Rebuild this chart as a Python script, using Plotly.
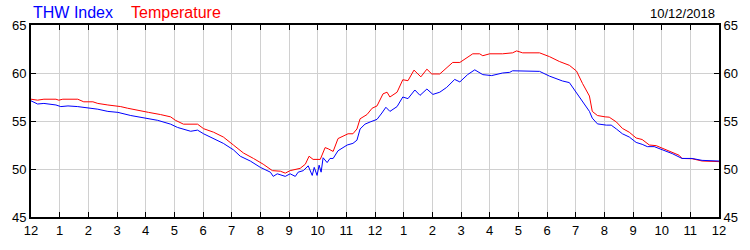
import plotly.graph_objects as go

# Hours since midnight (0-24) and values
temp_hours = [0.00, 0.23, 0.45, 0.87, 0.97, 1.11, 1.63, 1.84, 2.16, 2.33, 2.68, 3.13, 3.37, 3.83,
              4.10, 4.52, 4.87, 5.04, 5.32, 5.81, 6.02, 6.37, 6.71, 7.06, 7.41, 7.76, 8.10, 8.42,
              8.70, 8.87, 9.04, 9.39, 9.57, 9.70, 9.84, 10.09, 10.26, 10.37, 10.54, 10.71, 10.89,
              11.06, 11.23, 11.37, 11.48, 11.72, 11.90, 12.07, 12.28, 12.42, 12.52, 12.77, 12.97,
              13.15, 13.36, 13.60, 13.81, 13.98, 14.26, 14.71, 14.96, 15.41, 15.65, 15.76, 16.00,
              16.45, 16.80, 16.94, 17.15, 17.74, 18.09, 18.43, 18.78, 19.03, 19.24, 19.48, 19.58,
              19.76, 20.03, 20.17, 20.42, 20.63, 20.87, 21.11, 21.32, 21.57, 21.81, 22.02, 22.37,
              22.61, 22.71, 23.06, 23.41, 24.00]
temperature = [57.27, 57.17, 57.27, 57.27, 57.17, 57.27, 57.27, 57.0, 57.0, 56.83, 56.67, 56.5, 56.33, 56.1,
               55.9, 55.67, 55.43, 55.07, 54.67, 54.67, 54.2, 53.83, 53.33, 52.5, 51.67, 51.1, 50.5, 49.83,
               49.77, 49.57, 49.83, 50.07, 50.5, 51.33, 51.0, 51.0, 52.23, 52.1, 51.83, 53.17, 53.4,
               53.67, 53.67, 54.17, 55.23, 55.67, 56.33, 56.57, 57.83, 58.0, 57.5, 58.0, 59.3,
               59.2, 60.3, 59.6, 60.4, 59.9, 59.9, 61.1, 61.1, 62.0, 62.0, 61.8, 62.0,
               62.0, 62.1, 62.3, 62.1, 62.1, 61.7, 61.2, 60.8, 60.2, 58.9, 57.6, 56.0,
               55.57, 55.43, 55.4, 54.9, 54.23, 53.83, 53.23, 53.07, 52.5, 52.43, 52.17, 51.67,
               51.43, 51.1, 51.07, 50.83, 50.77]

thw_hours = [0.00, 0.23, 0.45, 0.70, 0.87, 1.04, 1.29, 1.63, 1.84, 2.09, 2.33, 2.68, 3.03, 3.48, 3.93,
             4.42, 4.87, 5.11, 5.57, 5.81, 6.02, 6.26, 6.71, 7.06, 7.30, 7.65, 8.00, 8.35, 8.45, 8.59,
             8.87, 9.04, 9.22, 9.32, 9.50, 9.67, 9.81, 9.88, 9.98, 10.05, 10.12, 10.19, 10.33, 10.43,
             10.54, 10.71, 11.03, 11.23, 11.37, 11.48, 11.65, 11.83, 12.07, 12.24, 12.38, 12.52, 12.77,
             12.97, 13.15, 13.39, 13.57, 13.81, 14.02, 14.26, 14.50, 14.78, 14.96, 15.23, 15.48, 15.76,
             16.07, 16.45, 16.70, 16.80, 17.04, 17.39, 17.74, 18.09, 18.37, 18.54, 18.78, 18.85, 19.03,
             19.24, 19.48, 19.58, 19.76, 20.07, 20.24, 20.42, 20.63, 20.87, 21.11, 21.32, 21.50, 21.74,
             22.02, 22.37, 22.71, 23.06, 23.41, 24.00]
thw_index = [57.1, 56.77, 56.83, 56.77, 56.67, 56.5, 56.57, 56.5, 56.43, 56.33, 56.23, 56.0, 55.9, 55.57, 55.33,
             55.07, 54.67, 54.33, 53.93, 54.05, 53.67, 53.33, 52.67, 52.0, 51.33, 50.83, 50.17, 49.67, 49.23, 49.5,
             49.23, 49.5, 49.23, 49.67, 49.83, 50.33, 49.33, 50.17, 49.33, 50.4, 49.67, 51.17, 50.67, 51.1,
             51.1, 51.9, 52.5, 52.67, 53.0, 54.17, 54.67, 54.9, 55.17, 55.83, 56.43, 56.0, 56.5,
             57.5, 57.33, 58.23, 57.67, 58.33, 57.77, 58.0, 58.5, 59.33, 59.07, 59.83, 60.33, 59.83,
             59.73, 60.0, 60.07, 60.23, 60.23, 60.23, 60.17, 59.67, 59.33, 59.17, 59.0, 58.7, 57.9,
             57.0, 56.0, 55.3, 54.7, 54.57, 54.57, 54.17, 53.67, 53.33, 52.77, 52.57, 52.33, 52.33,
             52.0, 51.6, 51.1, 51.1, 50.9, 50.83]

tick_hours = list(range(25))
tick_labels = ["12", "1", "2", "3", "4", "5", "6", "7", "8", "9", "10", "11",
               "12", "1", "2", "3", "4", "5", "6", "7", "8", "9", "10", "11", "12"]
y_ticks = [45, 50, 55, 60, 65]

FONT = "Liberation Sans"

fig = go.Figure()
fig.add_trace(go.Scatter(x=temp_hours, y=temperature, mode="lines",
                         line=dict(color="#ff0000", width=1), name="Temperature"))
fig.add_trace(go.Scatter(x=thw_hours, y=thw_index, mode="lines",
                         line=dict(color="#0000ff", width=1), name="THW Index"))
fig.add_trace(go.Scatter(x=[None], y=[None], yaxis="y2", showlegend=False, hoverinfo="skip"))

axis_common = dict(showline=True, linecolor="black", linewidth=2, ticks="inside",
                   tickcolor="black", ticklen=5, tickwidth=1,
                   tickfont=dict(family=FONT, size=13, color="black"), zeroline=False)

fig.update_layout(
    width=750, height=250,
    margin=dict(l=30, r=30, t=25, b=25),
    paper_bgcolor="white", plot_bgcolor="white",
    showlegend=False,
    xaxis=dict(range=[0, 24], tickvals=tick_hours, ticktext=tick_labels,
               showgrid=True, gridcolor="#d0d0d0", gridwidth=1, mirror="ticks", **axis_common),
    yaxis=dict(range=[45, 65], tickvals=y_ticks,
               showgrid=True, gridcolor="#d0d0d0", gridwidth=1, mirror="ticks", **axis_common),
    yaxis2=dict(range=[45, 65], tickvals=y_ticks, overlaying="y", side="right",
                showgrid=False, **axis_common),
    annotations=[
        dict(text="THW Index", x=0.0, y=1.065, xref="paper", yref="paper",
             xanchor="left", yanchor="middle", showarrow=False,
             font=dict(family=FONT, size=16, color="#0000ff")),
        dict(text="Temperature", x=0.142, y=1.065, xref="paper", yref="paper",
             xanchor="left", yanchor="middle", showarrow=False,
             font=dict(family=FONT, size=16, color="#ff0000")),
        dict(text="10/12/2018", x=0.997, y=1.06, xref="paper", yref="paper",
             xanchor="right", yanchor="middle", showarrow=False,
             font=dict(family=FONT, size=13, color="black")),
    ],
)

fig.write_html("out.html")
